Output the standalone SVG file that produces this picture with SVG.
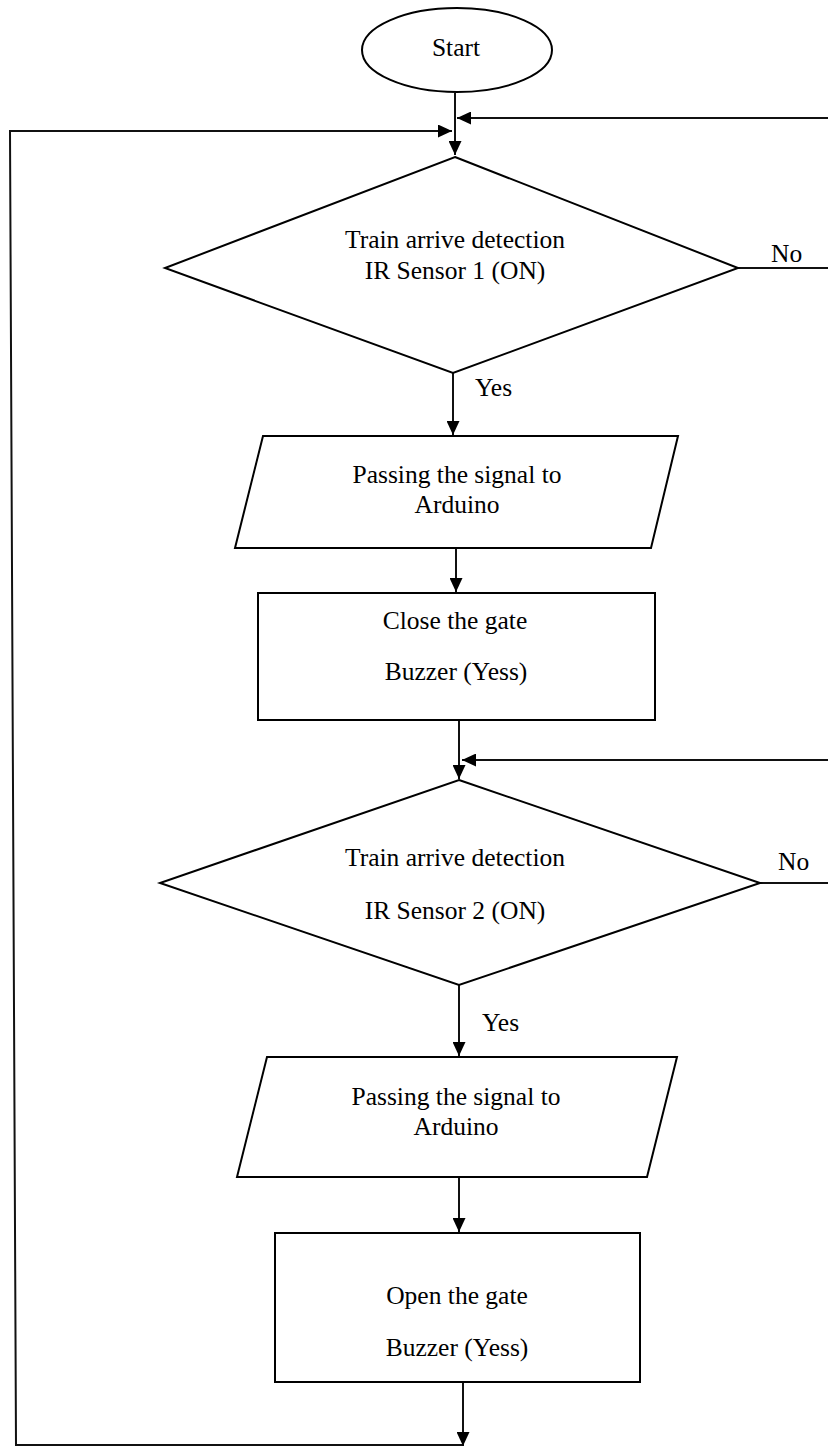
<svg xmlns="http://www.w3.org/2000/svg" width="828" height="1447" viewBox="0 0 828 1447">
<style>
.s{fill:#fff;stroke:#000;stroke-width:2}
.c{fill:none;stroke:#111;stroke-width:2}
.t{font-family:"Liberation Serif","Times New Roman",serif;font-size:25.5px;fill:#000;text-anchor:middle}
.l{font-family:"Liberation Serif","Times New Roman",serif;font-size:25.5px;fill:#000}
</style>
<defs>
<marker id="a" markerUnits="userSpaceOnUse" markerWidth="15" markerHeight="13" refX="14" refY="6.5" orient="auto">
<path d="M0,0 L14,6.5 L0,13 z" fill="#000"/>
</marker>
</defs>
<g id="connectors">
<path class="c" d="M455,93 L455,155" marker-end="url(#a)"/>
<path class="c" d="M738,268 L830,268 L830,118 L457,118" marker-end="url(#a)"/>
<path class="c" d="M463,1445 L16,1445 L10,131 L452,131" marker-end="url(#a)"/>
<path class="c" d="M453,373 L453,435" marker-end="url(#a)"/>
<path class="c" d="M456,548 L456,592" marker-end="url(#a)"/>
<path class="c" d="M459,720 L459,779" marker-end="url(#a)"/>
<path class="c" d="M760,883 L830,883 L830,760 L462,760" marker-end="url(#a)"/>
<path class="c" d="M459,985 L459,1056" marker-end="url(#a)"/>
<path class="c" d="M459,1177 L459,1232" marker-end="url(#a)"/>
<path class="c" d="M463,1382 L463,1446" marker-end="url(#a)"/>
<text class="l" x="771" y="262">No</text>
<text class="l" x="475" y="396">Yes</text>
<text class="l" x="778" y="870">No</text>
<text class="l" x="482" y="1031">Yes</text>
</g>
<g id="start">
<ellipse class="s" cx="457" cy="50" rx="95" ry="42"/>
<text class="t" x="456" y="56">Start</text>
</g>
<g id="decision1">
<polygon class="s" points="455,157 738,268 453,373 165,268"/>
<text class="t" x="455" y="248">Train arrive detection</text>
<text class="t" x="455" y="279">IR Sensor 1 (ON)</text>
</g>
<g id="io1">
<polygon class="s" points="263,436 678,436 651,548 235,548"/>
<text class="t" x="457" y="483">Passing the signal to</text>
<text class="t" x="457" y="513">Arduino</text>
</g>
<g id="process1">
<rect class="s" x="258" y="593" width="397" height="127"/>
<text class="t" x="455" y="629">Close the gate</text>
<text class="t" x="456" y="680">Buzzer (Yess)</text>
</g>
<g id="decision2">
<polygon class="s" points="459,780 760,883 459,985 160,883"/>
<text class="t" x="455" y="866">Train arrive detection</text>
<text class="t" x="455" y="919">IR Sensor 2 (ON)</text>
</g>
<g id="io2">
<polygon class="s" points="267,1057 677,1057 647,1177 237,1177"/>
<text class="t" x="456" y="1105">Passing the signal to</text>
<text class="t" x="456" y="1135">Arduino</text>
</g>
<g id="process2">
<rect class="s" x="275" y="1233" width="365" height="149"/>
<text class="t" x="457" y="1304">Open the gate</text>
<text class="t" x="457" y="1356">Buzzer (Yess)</text>
</g>
</svg>
